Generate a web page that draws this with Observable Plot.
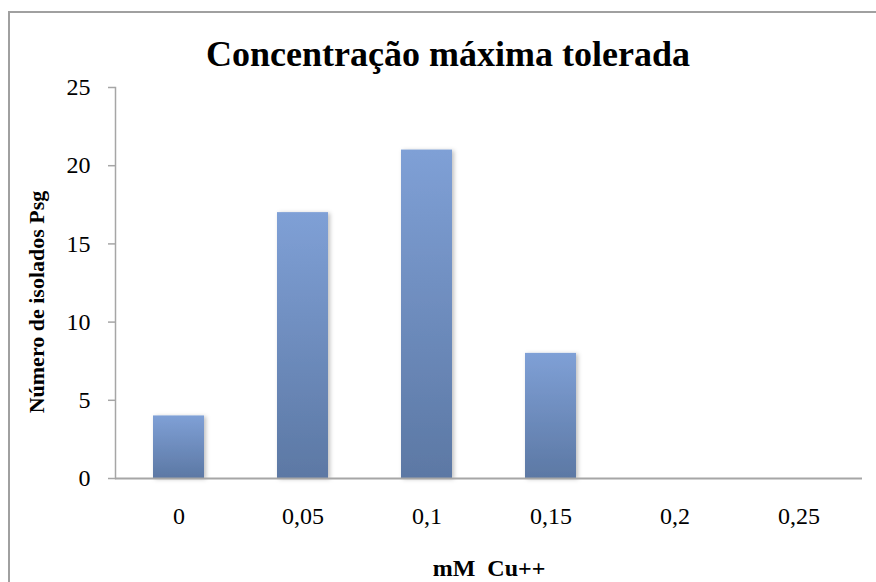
<!DOCTYPE html>
<html>
<head>
<meta charset="utf-8">
<script src="https://cdn.jsdelivr.net/npm/d3@7"></script>
<script src="https://cdn.jsdelivr.net/npm/@observablehq/plot@0.6"></script>
<style>
  html, body { margin: 0; padding: 0; background: #fff; }
  #wrap { position: relative; width: 876px; height: 582px; overflow: hidden; }
  #border { position: absolute; left: 8px; top: 11px; right: -10px; bottom: -10px;
            border-left: 2px solid #a0a0a0; border-top: 2px solid #a0a0a0; pointer-events: none; }
  svg { display: block; }
</style>
</head>
<body>
<div id="wrap"><div id="border"></div></div>
<script>
const categories = ["0", "0,05", "0,1", "0,15", "0,2", "0,25"];
const counts = [4, 17, 21, 8, 0, 0];
const yTicks = [0, 5, 10, 15, 20, 25];
const titleText = "Concentração máxima tolerada";
const yLabel = "Número de isolados Psg";
const xLabel = "mM  Cu++";

const data = categories.map((c, i) => ({c, n: counts[i]}));

const chart = Plot.plot({
  width: 876,
  height: 582,
  marginLeft: 115,
  marginRight: 14,
  marginTop: 87,
  marginBottom: 104,
  style: {
    fontFamily: "'Liberation Serif', 'Times New Roman', serif",
    fontSize: "24px",
    color: "#000",
    background: "transparent"
  },
  x: {domain: categories, paddingInner: 0.59, paddingOuter: 0.295, label: null},
  y: {domain: [0, 25], label: null},
  marks: [
    Plot.barY(data, {x: "c", y: "n", fill: "url(#barGrad)"}),
    Plot.frame({anchor: "left", stroke: "#a6a6a6", strokeWidth: 1.5}),
    Plot.ruleY([0], {stroke: "#a6a6a6", strokeWidth: 2}),
    Plot.axisY({ticks: yTicks, tickSize: 7, tickPadding: 18, stroke: "#a6a6a6", strokeWidth: 1.5, label: null, fontSize: 24}),
    Plot.axisX({tickSize: 0, tickPadding: 28, label: null, fontSize: 24}),
    Plot.text([titleText], {text: d => d, frameAnchor: "top", textAnchor: "middle", lineAnchor: "bottom", dx: -41, dy: -22, fontSize: 36, fontWeight: "bold"}),
    Plot.text([yLabel], {text: d => d, frameAnchor: "left", textAnchor: "middle", lineAnchor: "bottom", rotate: -90, dx: -72, dy: 19, fontSize: 22, fontWeight: "bold"}),
    Plot.text([xLabel], {text: d => d, frameAnchor: "bottom", textAnchor: "middle", lineAnchor: "bottom", dy: 97, fontSize: 24, fontWeight: "bold"})
  ]
});

const svg = d3.select(chart);
const defs = svg.insert("defs", ":first-child");
const grad = defs.append("linearGradient").attr("id", "barGrad")
  .attr("x1", 0).attr("y1", 0).attr("x2", 0).attr("y2", 1);
grad.append("stop").attr("offset", 0).attr("stop-color", "#7FA0D6");
grad.append("stop").attr("offset", 1).attr("stop-color", "#5C78A4");
const f = defs.append("filter").attr("id", "shadow")
  .attr("x", "-20%").attr("y", "-10%").attr("width", "150%").attr("height", "130%");
f.append("feDropShadow").attr("dx", 2).attr("dy", 1).attr("stdDeviation", 2)
  .attr("flood-color", "#000").attr("flood-opacity", 0.25);
svg.selectAll("g[aria-label='bar'] rect").attr("filter", "url(#shadow)");
svg.selectAll("text").style("white-space", "pre");

document.getElementById("wrap").prepend(chart);
</script>
</body>
</html>
